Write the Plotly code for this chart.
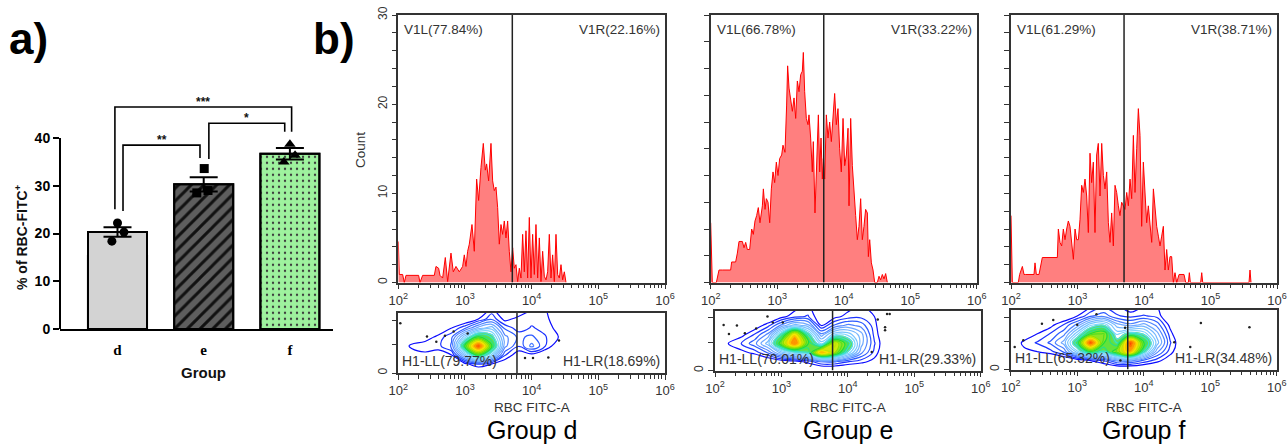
import plotly.graph_objects as go

W, H = 1288, 445
def PX(x): return x / W
def PY(y): return 1 - y / H

FONT = "Liberation Sans, Arial, sans-serif"
SERIF = "Liberation Serif, Times New Roman, serif"

# ---------------- panel a data ----------------
groups = ["d", "e", "f"]
group_pos = [0, 1, 2]
bar_means = [20.3, 30.3, 36.7]
bar_sems = [1.0, 1.5, 1.2]
points_d = [22.2, 18.4, 20.3]
points_e = [33.6, 28.5, 29.0]
points_f = [38.7, 36.4, 35.0]
sig_pairs = [(0, 1), (1, 2), (0, 2)]
sig_labels = ["**", "*", "***"]

# ---------------- panel b data: histograms (x as log10 of RBC FITC-A) ----------------
hist_d_logx = [2.0, 2.015, 2.065, 2.09, 2.115, 2.305, 2.325, 2.365, 2.54, 2.565, 2.605, 2.625, 2.665, 2.705, 2.74,
               2.79, 2.825, 2.865, 2.915, 2.965, 2.99, 3.015, 3.04, 3.065, 3.105, 3.14, 3.175, 3.205, 3.24, 3.275,
               3.305, 3.325, 3.355, 3.39, 3.415, 3.44, 3.465, 3.49, 3.515, 3.54, 3.565, 3.59, 3.615, 3.64, 3.665,
               3.69, 3.715, 3.74, 3.765, 3.79, 3.815, 3.84, 3.865, 3.89, 3.915, 3.94, 3.965, 3.99, 4.015, 4.04,
               4.065, 4.09, 4.115, 4.14, 4.165, 4.19, 4.215, 4.24, 4.265, 4.29, 4.315, 4.34, 4.365, 4.39, 4.415,
               4.44, 4.465, 4.49, 4.515]
hist_d_count = [4.6, 0.9, 0.9, 0, 0.8, 0.8, 0, 0.8, 0.8, 1.8, 1.6, 0.8, 0.5, 2.8, 0.1,
                3.3, 1.2, 1.8, 1.2, 1.8, 3.1, 1.8, 3.5, 4.3, 6.5, 3.5, 11.6, 9.2, 12.9, 15.6,
                12.6, 13.3, 11.4, 15.6, 11.4, 10.3, 10.7, 8.4, 4.3, 6.5, 5.4, 6.9, 5.0, 6.9, 3.5,
                1.2, 3.9, 1.6, 2.0, 0.1, 1.6, 0.5, 5.4, 1.2, 5.8, 0.5, 7.3, 0.5, 5.4, 0.9,
                6.5, 0.5, 5.0, 0.1, 3.5, 0.7, 0.3, 1.2, 5.4, 0.5, 3.1, 0.1, 5.4, 0.9, 0.5,
                2.0, 0.3, 1.2, 0]

hist_e_logx = [2.0, 2.024, 2.085, 2.100, 2.125, 2.175, 2.300, 2.315, 2.375, 2.401, 2.426, 2.476, 2.501, 2.526,
               2.551, 2.586, 2.616, 2.641, 2.666, 2.691, 2.716, 2.741, 2.777, 2.792, 2.817, 2.837, 2.862, 2.887,
               2.912, 2.937, 2.962, 2.987, 3.012, 3.037, 3.067, 3.087, 3.117, 3.142, 3.157, 3.178, 3.203, 3.228,
               3.253, 3.278, 3.303, 3.328, 3.353, 3.378, 3.393, 3.413, 3.438, 3.463, 3.478, 3.503, 3.528, 3.543,
               3.568, 3.589, 3.619, 3.639, 3.659, 3.679, 3.694, 3.714, 3.739, 3.764, 3.789, 3.814, 3.839, 3.864,
               3.889, 3.914, 3.939, 3.964, 3.990, 4.015, 4.040, 4.065, 4.080, 4.105, 4.130, 4.155, 4.180, 4.205,
               4.230, 4.255, 4.280, 4.305, 4.330, 4.356, 4.371, 4.391, 4.416, 4.441, 4.466, 4.506, 4.531, 4.556,
               4.581, 4.606, 4.631, 4.656]
hist_e_count = [6.7, 0, 0, 0.7, 1.4, 1.4, 1.4, 2.3, 2.3, 3.3, 4.6, 4.6, 3.9, 4.5,
                3.7, 3.7, 6.0, 5.4, 6.9, 7.5, 8.4, 6.7, 8.6, 10.5, 8.2, 9.4, 9.0, 6.7,
                10.5, 12.4, 11.2, 13.5, 12.0, 13.9, 14.3, 15.4, 14.6, 19.9, 24.3, 21.8, 20.3, 19.2,
                20.7, 18.4, 22.6, 21.4, 23.3, 23.7, 25.8, 21.4, 18.4, 17.7, 18.8, 16.2, 12.4, 15.8,
                7.8, 13.1, 18.8, 12.4, 16.2, 11.6, 13.9, 11.6, 18.8, 16.2, 18.0, 15.8, 18.0, 21.2,
                17.7, 19.5, 15.0, 12.4, 18.4, 13.1, 14.3, 17.3, 8.6, 18.4, 13.1, 9.7, 7.5, 4.8,
                6.3, 9.4, 4.8, 6.3, 8.2, 7.8, 2.9, 4.8, 2.2, 1.4, 0, 0, 0.7, 0.3,
                0.9, 0.4, 1.0, 0]

hist_f_logx = [2.0, 2.02, 2.110, 2.130, 2.171, 2.196, 2.221, 2.346, 2.361, 2.381, 2.421, 2.446, 2.471, 2.697,
               2.712, 2.737, 2.762, 2.787, 2.812, 2.837, 2.862, 2.887, 2.912, 2.938, 2.963, 2.988, 3.013, 3.038,
               3.063, 3.088, 3.113, 3.138, 3.163, 3.188, 3.213, 3.238, 3.263, 3.288, 3.313, 3.339, 3.364, 3.389,
               3.414, 3.439, 3.464, 3.489, 3.514, 3.539, 3.564, 3.589, 3.614, 3.639, 3.664, 3.689, 3.715, 3.740,
               3.765, 3.790, 3.815, 3.840, 3.865, 3.890, 3.915, 3.940, 3.965, 3.990, 4.015, 4.040, 4.065, 4.091,
               4.116, 4.141, 4.166, 4.191, 4.216, 4.241, 4.266, 4.291, 4.316, 4.341, 4.366, 4.391, 4.416, 4.441,
               4.466, 4.492, 4.527, 4.602, 4.627, 4.667, 4.682, 4.697, 4.852, 4.868, 4.883, 5.579, 5.594, 5.609]
hist_f_count = [7.5, 0, 0, 0.9, 1.8, 0.9, 0.9, 0.9, 2.2, 0.9, 0.9, 1.8, 2.8, 2.8,
                6.0, 4.5, 4.1, 6.0, 4.8, 6.0, 6.9, 6.3, 4.5, 2.6, 6.0, 4.8, 4.8, 7.1,
                10.9, 10.1, 11.6, 9.7, 5.6, 14.5, 11.2, 13.5, 5.6, 14.3, 15.6, 9.7, 15.6, 12.0,
                10.5, 12.4, 6.7, 4.5, 7.8, 4.1, 10.9, 10.1, 8.6, 7.5, 9.0, 8.6, 8.2, 10.1,
                8.6, 11.6, 9.4, 16.5, 10.1, 15.0, 19.5, 16.5, 6.3, 13.5, 9.7, 6.7, 8.6, 6.0,
                4.5, 10.5, 7.8, 6.3, 5.2, 4.1, 5.2, 6.3, 1.4, 3.7, 1.4, 2.9, 2.9, 0,
                1.1, 0, 0.9, 0.9, 0, 0, 1.1, 0, 0, 1.1, 0, 0, 1.4, 0]

hist_gate_log = [3.71, 3.70, 3.70]
hist_left_labels = ["V1L(77.84%)", "V1L(66.78%)", "V1L(61.29%)"]
hist_right_labels = ["V1R(22.16%)", "V1R(33.22%)", "V1R(38.71%)"]

# ---------------- panel b data: density contours ----------------
contour_cols_log = [2.0, 2.2, 2.4, 2.6, 2.8, 3.0, 3.2, 3.4, 3.6, 3.8, 4.0, 4.2, 4.4, 4.6, 4.8, 5.0]
contour_rows = [0, 15, 30, 45, 60, 75, 90, 105]
dens_d = [
    [0, 0, 0, 0, 0, 0, 0, 0, 0, 0, 0, 0, 0, 0, 0, 0],
    [0, 0, 0, 0, 0, 0.8, 1.5, 1.0, 0.5, 0, 0, 0, 0, 0, 0, 0],
    [0, 0.5, 0.8, 0.6, 1.0, 3.5, 6, 4, 1.5, 0.6, 0.8, 0.3, 0, 0, 0, 0],
    [0.2, 1.2, 1.4, 1.3, 2.0, 6, 9.5, 6, 2.5, 1.5, 2.5, 1.5, 0.5, 0, 0, 0],
    [0, 0.2, 0.6, 1.2, 1.8, 4, 6, 5, 2.5, 1.8, 2, 1.5, 1.0, 0, 0, 0],
    [0, 0, 0, 0.3, 1.0, 1.8, 3, 3.5, 1.8, 1.2, 1.5, 1.3, 0.8, 0, 0, 0],
    [0, 0, 0, 0, 0, 0.3, 1.0, 1.8, 0.8, 1.2, 1.3, 1.3, 0.3, 0, 0, 0],
    [0, 0, 0, 0, 0, 0, 0.3, 1.2, 0.3, 0.5, 1.0, 1.1, 0.3, 0, 0, 0],
]
dens_e = [
    [0, 0, 0, 0, 0, 0, 0, 0, 0, 0, 0, 0, 0, 0, 0, 0],
    [0, 0, 0, 0, 0.3, 0.6, 0.8, 1.2, 2.0, 2.0, 1.5, 1.2, 0.8, 0, 0, 0],
    [0, 0.3, 0.8, 1.2, 2.0, 3.5, 4.5, 5, 8.5, 7, 4.5, 2.5, 1.3, 0.2, 0, 0],
    [0, 1.0, 1.5, 2.2, 3.5, 6.5, 9, 6, 4, 7.5, 5.5, 3.0, 1.5, 0.3, 0, 0],
    [0, 0.2, 0.8, 1.5, 2.5, 5, 8, 5, 2.5, 4, 4, 3, 1.3, 0.2, 0, 0],
    [0, 0, 0.2, 0.6, 1.3, 2.5, 3.5, 3, 1.0, 2, 2.5, 2.2, 1.2, 0, 0, 0],
    [0, 0, 0, 0, 0.2, 0.8, 1.3, 1.5, 0.5, 0.8, 1.2, 1.3, 1.0, 0, 0, 0],
    [0, 0, 0, 0, 0, 0.3, 0.8, 1.2, 0.3, 0.5, 0.8, 1.1, 0.8, 0, 0, 0],
]
dens_f = [
    [0, 0, 0, 0, 0, 0, 0, 0, 0, 0, 0, 0, 0, 0, 0, 0],
    [0, 0, 0, 0, 0.2, 0.5, 1.0, 1.5, 2.5, 2.5, 1.8, 1.2, 0.6, 0, 0, 0],
    [0.3, 0.8, 1.0, 1.3, 2.0, 4.0, 6, 5, 6.5, 8.5, 5, 2.5, 1.2, 0.3, 0, 0],
    [0.2, 1.2, 1.5, 2.0, 3.0, 5.5, 9.5, 6, 5, 9.5, 6, 3.5, 1.5, 0.3, 0, 0],
    [0, 0.3, 1.0, 1.5, 2.2, 4, 6, 6.5, 4, 5, 4.5, 3, 1.2, 0, 0, 0],
    [0, 0, 0.3, 0.8, 1.5, 2.5, 4, 4.5, 3, 2.5, 3, 2.2, 0.8, 0, 0, 0],
    [0, 0, 0, 0, 0.3, 1.0, 1.8, 2.2, 1.5, 1.3, 1.5, 1.3, 0.3, 0, 0, 0],
    [0, 0, 0, 0, 0, 0.3, 1.0, 1.4, 1.2, 0.6, 1.0, 1.0, 0.2, 0, 0, 0],
]
events_d_log = [2.03, 2.43, 2.57, 2.70, 2.83, 3.04, 4.02, 3.90, 4.25, 4.41]
events_d_y = [83, 61, 52, 62, 69, 66, 25, 25, 26, 54]
events_e_log = [2.79, 2.13, 2.33, 2.21, 2.45, 2.62, 2.87, 3.02, 4.59, 4.63, 4.56, 4.56, 4.45, 4.36]
events_e_y = [90, 76, 75, 61, 62, 70, 80, 80, 94, 94, 72, 67, 85, 31]
events_f_log = [2.47, 2.64, 3.0, 3.29, 2.19, 2.06, 4.86, 5.59, 4.46, 4.70, 3.65, 3.72]
events_f_y = [77, 83, 75, 93, 49, 38, 78, 71, 46, 38, 15, 70]
contour_gate_log = [3.78, 3.77, 3.76]
contour_left_labels = ["H1-LL(79.77%)", "H1-LL(70.01%)", "H1-LL(65.32%)"]
contour_right_labels = ["H1-LR(18.69%)", "H1-LR(29.33%)", "H1-LR(34.48%)"]
panel_titles = ["Group d", "Group e", "Group f"]

# ---------------- styling / geometry ----------------
bar_colors = ["#d3d3d3", "#5e5e5e", "#9ef29e"]
bar_pattern_shapes = ["", "/", "."]
bar_pattern_colors = ["rgba(0,0,0,0)", "#111111", "#3c3c3c"]
point_symbols = ["circle", "square", "triangle-up"]
point_jitter = [[0.0, -0.065, 0.075], [0.006, -0.08, 0.05], [0.0, 0.06, -0.07]]
bracket_tops = [38.5, 43.1, 46.5]
bracket_feet = [(24.7, 35.8), (35.6, 41.3), (25.1, 41.3)]
bracket_inset = [(0.064, -0.043), (0.06, -0.06), (-0.03, 0.02)]

hist_x_px = [(398.3, 665.0), (710.7, 976.7), (1011.0, 1277.0)]
hist_y_px = (282.5, 15.0)
cont_x_px = [(398.3, 665.0), (715.0, 980.7), (1010.7, 1276.7)]
cont_y_px = [(373.0, 313.0), (370.5, 310.5), (369.5, 310.0)]

decades = [1e2, 1e3, 1e4, 1e5, 1e6]
decade_text = ["10<sup>2</sup>", "10<sup>3</sup>", "10<sup>4</sup>", "10<sup>5</sup>", "10<sup>6</sup>"]
minor_vals = [k * 10 ** n for n in range(2, 6) for k in range(2, 10)]

line_scale = [[0, "#0a0aff"], [0.1, "#2d5bff"], [0.2, "#6fa8ff"], [0.35, "#80d4ff"],
              [0.45, "#35e0d0"], [0.55, "#1fdc3c"], [0.65, "#8ee000"], [0.75, "#f5e800"],
              [0.87, "#ff8a00"], [1, "#ff1a00"]]
fill_scale = [[0, "rgba(255,255,255,0)"], [0.1, "rgba(255,255,255,0)"], [0.12, "rgba(60,220,70,0.85)"],
              [0.35, "rgba(130,228,40,0.9)"], [0.55, "rgba(240,235,0,0.92)"],
              [0.75, "rgba(255,140,0,0.95)"], [1, "rgba(255,0,0,1)"]]

def note(x, y, text, size, color="#333", xanchor="center", yanchor="middle", angle=0, family=FONT):
    return dict(x=PX(x), y=PY(y), xref="paper", yref="paper", text=text, showarrow=False,
                xanchor=xanchor, yanchor=yanchor, textangle=angle,
                font=dict(family=family, size=size, color=color))

fig = go.Figure()

# ================= panel a =================
# solid fills
fig.add_trace(go.Bar(
    x=group_pos, y=bar_means, width=0.685, xaxis="x", yaxis="y",
    marker=dict(color=bar_colors, line=dict(color="black", width=2)), hoverinfo="skip"))
# hatch / dot overlays, outline and error bars on top
fig.add_trace(go.Bar(
    x=group_pos, y=bar_means, width=0.685, xaxis="x", yaxis="y",
    marker=dict(color=bar_pattern_colors, line=dict(color="black", width=2),
                pattern=dict(shape=bar_pattern_shapes, fillmode="replace",
                             size=[8, 9, 6], solidity=[0.3, 0.33, 0.12])),
    error_y=dict(type="data", array=bar_sems, color="black", thickness=2, width=14),
    hoverinfo="skip"))
for gi, vals in enumerate([points_d, points_e, points_f]):
    fig.add_trace(go.Scatter(
        x=[group_pos[gi] + j for j in point_jitter[gi]], y=vals, mode="markers",
        marker=dict(symbol=point_symbols[gi], color="black", size=9 if gi < 2 else 10),
        xaxis="x", yaxis="y", hoverinfo="skip", cliponaxis=False))
for (a, b), top, (fa, fb), (ia, ib) in zip(sig_pairs, bracket_tops, bracket_feet, bracket_inset):
    xl, xr = group_pos[a] + ia, group_pos[b] + ib
    fig.add_trace(go.Scatter(x=[xl, xl, xr, xr], y=[fa, top, top, fb], mode="lines",
                             line=dict(color="black", width=1.6), xaxis="x", yaxis="y",
                             hoverinfo="skip"))

annotations = []
for (a, b), top, lab, (ia, ib) in zip(sig_pairs, bracket_tops, sig_labels, bracket_inset):
    annotations.append(dict(x=(group_pos[a] + ia + group_pos[b] + ib) / 2, y=top, xref="x", yref="y",
                            text="<b>" + lab + "</b>", showarrow=False, xanchor="center",
                            yanchor="bottom", yshift=-4,
                            font=dict(family=FONT, size=12, color="#111")))

a_y0, a_pxu = 329.0, 4.775
shapes = [dict(type="line", xref="paper", yref="paper", x0=PX(60), x1=PX(60),
               y0=PY(a_y0), y1=PY(a_y0 - 40 * a_pxu), line=dict(color="black", width=2))]

layout = dict(
    barmode="overlay",
    xaxis=dict(domain=[PX(60), PX(333)], range=[-0.667, 2.5], anchor="y",
               tickvals=group_pos, ticktext=groups, ticks="outside", ticklen=6,
               tickcolor="rgba(0,0,0,0)", showline=True, linewidth=2, linecolor="black",
               showgrid=False, zeroline=False, automargin=False,
               tickfont=dict(family=SERIF, size=15, color="black", weight="bold")),
    yaxis=dict(domain=[PY(a_y0), PY(a_y0 - 48 * a_pxu)], range=[0, 48], anchor="x",
               tickvals=[0, 10, 20, 30, 40], ticks="outside", ticklen=6, tickwidth=2,
               tickcolor="black", showline=False, showgrid=False, zeroline=False, automargin=False,
               tickfont=dict(family=FONT, size=14, color="black", weight="bold")),
)

annotations += [
    note(28, 38, "<b>a)</b>", 44, "black"),
    note(334, 38, "<b>b)</b>", 44, "black"),
    note(21, 237, "<b>% of RBC-FITC<sup>+</sup></b>", 14, "#111", angle=-90),
    note(203, 372, "<b>Group</b>", 15, "#111"),
    note(361, 150, "Count", 13.5, "#333", angle=-90),
]

# ================= panel b =================
def log_axis(dom, anchor):
    return dict(type="log", range=[2, 6], domain=dom, anchor=anchor,
                tickmode="array", tickvals=decades, ticktext=decade_text,
                ticks="outside", ticklen=5, tickwidth=1, tickcolor="#333",
                minor=dict(tickmode="array", tickvals=minor_vals, ticks="outside", ticklen=4,
                           tickwidth=1, tickcolor="#333"),
                showline=True, mirror=True, linecolor="#333", linewidth=1.5,
                showgrid=False, zeroline=False, automargin=False,
                tickfont=dict(family=FONT, size=13, color="#333"))

hist_sets = [(hist_d_logx, hist_d_count), (hist_e_logx, hist_e_count), (hist_f_logx, hist_f_count)]
hist_minor = [list(range(0, 31, 2)), list(range(0, 31, 3)), list(range(0, 31, 2))]
dens_sets = [dens_d, dens_e, dens_f]
event_sets = [(events_d_log, events_d_y), (events_e_log, events_e_y), (events_f_log, events_f_y)]

for i in range(3):
    hx, hy = "x%d" % (i + 2), "y%d" % (i + 2)
    cx, cy = "x%d" % (i + 5), "y%d" % (i + 5)
    x0p, x1p = hist_x_px[i]
    layout["xaxis%d" % (i + 2)] = log_axis([PX(x0p), PX(x1p)], hy)
    ydict = dict(domain=[PY(hist_y_px[0]), PY(hist_y_px[1])], range=[0, 30], anchor=hx,
                 ticks="outside", ticklen=5, tickwidth=1, tickcolor="#333", tickangle=-90,
                 showline=True, mirror=True, linecolor="#333", linewidth=1.5,
                 showgrid=False, zeroline=False, automargin=False,
                 tickfont=dict(family=FONT, size=12, color="#333"))
    if i == 0:
        ydict.update(tickmode="array", tickvals=[0, 10, 20, 30], ticktext=["0", "10", "20", "30"],
                     minor=dict(tickmode="array", tickvals=hist_minor[i], ticks="outside", ticklen=5,
                                tickwidth=1, tickcolor="#333"))
    else:
        ydict.update(tickmode="array", tickvals=hist_minor[i], showticklabels=False)
    layout["yaxis%d" % (i + 2)] = ydict

    lx, ly = hist_sets[i]
    fig.add_trace(go.Scatter(x=[10 ** v for v in lx], y=ly, mode="lines",
                             line=dict(color="#ff0000", width=1), fill="tozeroy",
                             fillcolor="rgba(255,0,0,0.5)", xaxis=hx, yaxis=hy, hoverinfo="skip"))
    g = 10 ** hist_gate_log[i]
    fig.add_trace(go.Scatter(x=[g, g], y=[0, 30], mode="lines", line=dict(color="#222", width=1.5),
                             xaxis=hx, yaxis=hy, hoverinfo="skip"))
    annotations.append(note(x0p + 4, 30, hist_left_labels[i], 13.5, xanchor="left"))
    annotations.append(note(x1p - 3, 30, hist_right_labels[i], 13.5, xanchor="right"))

    # contour subplot
    cx0, cx1 = cont_x_px[i]
    cyb, cyt = cont_y_px[i]
    layout["xaxis%d" % (i + 5)] = log_axis([PX(cx0), PX(cx1)], cy)
    layout["yaxis%d" % (i + 5)] = dict(domain=[PY(cyb), PY(cyt)], range=[0, 100], anchor=cx,
                                       tickmode="array", tickvals=[0, 47, 88], ticktext=["0", "", ""],
                                       ticks="outside", ticklen=5, tickwidth=1, tickcolor="#333",
                                       tickangle=-90, showline=True, mirror=True, linecolor="#333",
                                       linewidth=1.5, showgrid=False, zeroline=False, automargin=False,
                                       tickfont=dict(family=FONT, size=12, color="#333"))
    xs = [10 ** c for c in contour_cols_log]
    fig.add_trace(go.Contour(x=xs, y=contour_rows, z=dens_sets[i], xaxis=cx, yaxis=cy,
                             contours=dict(coloring="fill", start=4.5, end=9.75, size=0.75),
                             line=dict(width=0, smoothing=1.1), colorscale=fill_scale,
                             showscale=False, hoverinfo="skip"))
    fig.add_trace(go.Contour(x=xs, y=contour_rows, z=dens_sets[i], xaxis=cx, yaxis=cy,
                             contours=dict(coloring="lines", start=1, end=10, size=0.45),
                             line=dict(width=1.2, smoothing=1.1), colorscale=line_scale,
                             showscale=False, hoverinfo="skip"))
    ex, ey = event_sets[i]
    fig.add_trace(go.Scatter(x=[10 ** v for v in ex], y=ey, mode="markers",
                             marker=dict(color="#222", size=2.5), xaxis=cx, yaxis=cy, hoverinfo="skip"))
    cg = 10 ** contour_gate_log[i]
    fig.add_trace(go.Scatter(x=[cg, cg], y=[0, 100], mode="lines", line=dict(color="#222", width=1.5),
                             xaxis=cx, yaxis=cy, hoverinfo="skip"))
    annotations.append(note(cx0 + 2, cyb - 12, contour_left_labels[i], 14, xanchor="left"))
    annotations.append(note(cx1 - 3, cyb - 12, contour_right_labels[i], 14, xanchor="right"))
    mid = (cx0 + cx1) / 2
    annotations.append(note(mid, 407, "RBC FITC-A", 13.5))
    annotations.append(note(mid, 430, panel_titles[i], 25, "black"))

fig.update_layout(width=W, height=H, margin=dict(l=0, r=0, t=0, b=0),
                  paper_bgcolor="white", plot_bgcolor="white", showlegend=False,
                  font=dict(family=FONT), annotations=annotations, shapes=shapes, **layout)

fig.write_html("out.html", config={"displayModeBar": False},
               post_script="document.body.style.margin='0px';document.body.style.overflow='hidden';")
